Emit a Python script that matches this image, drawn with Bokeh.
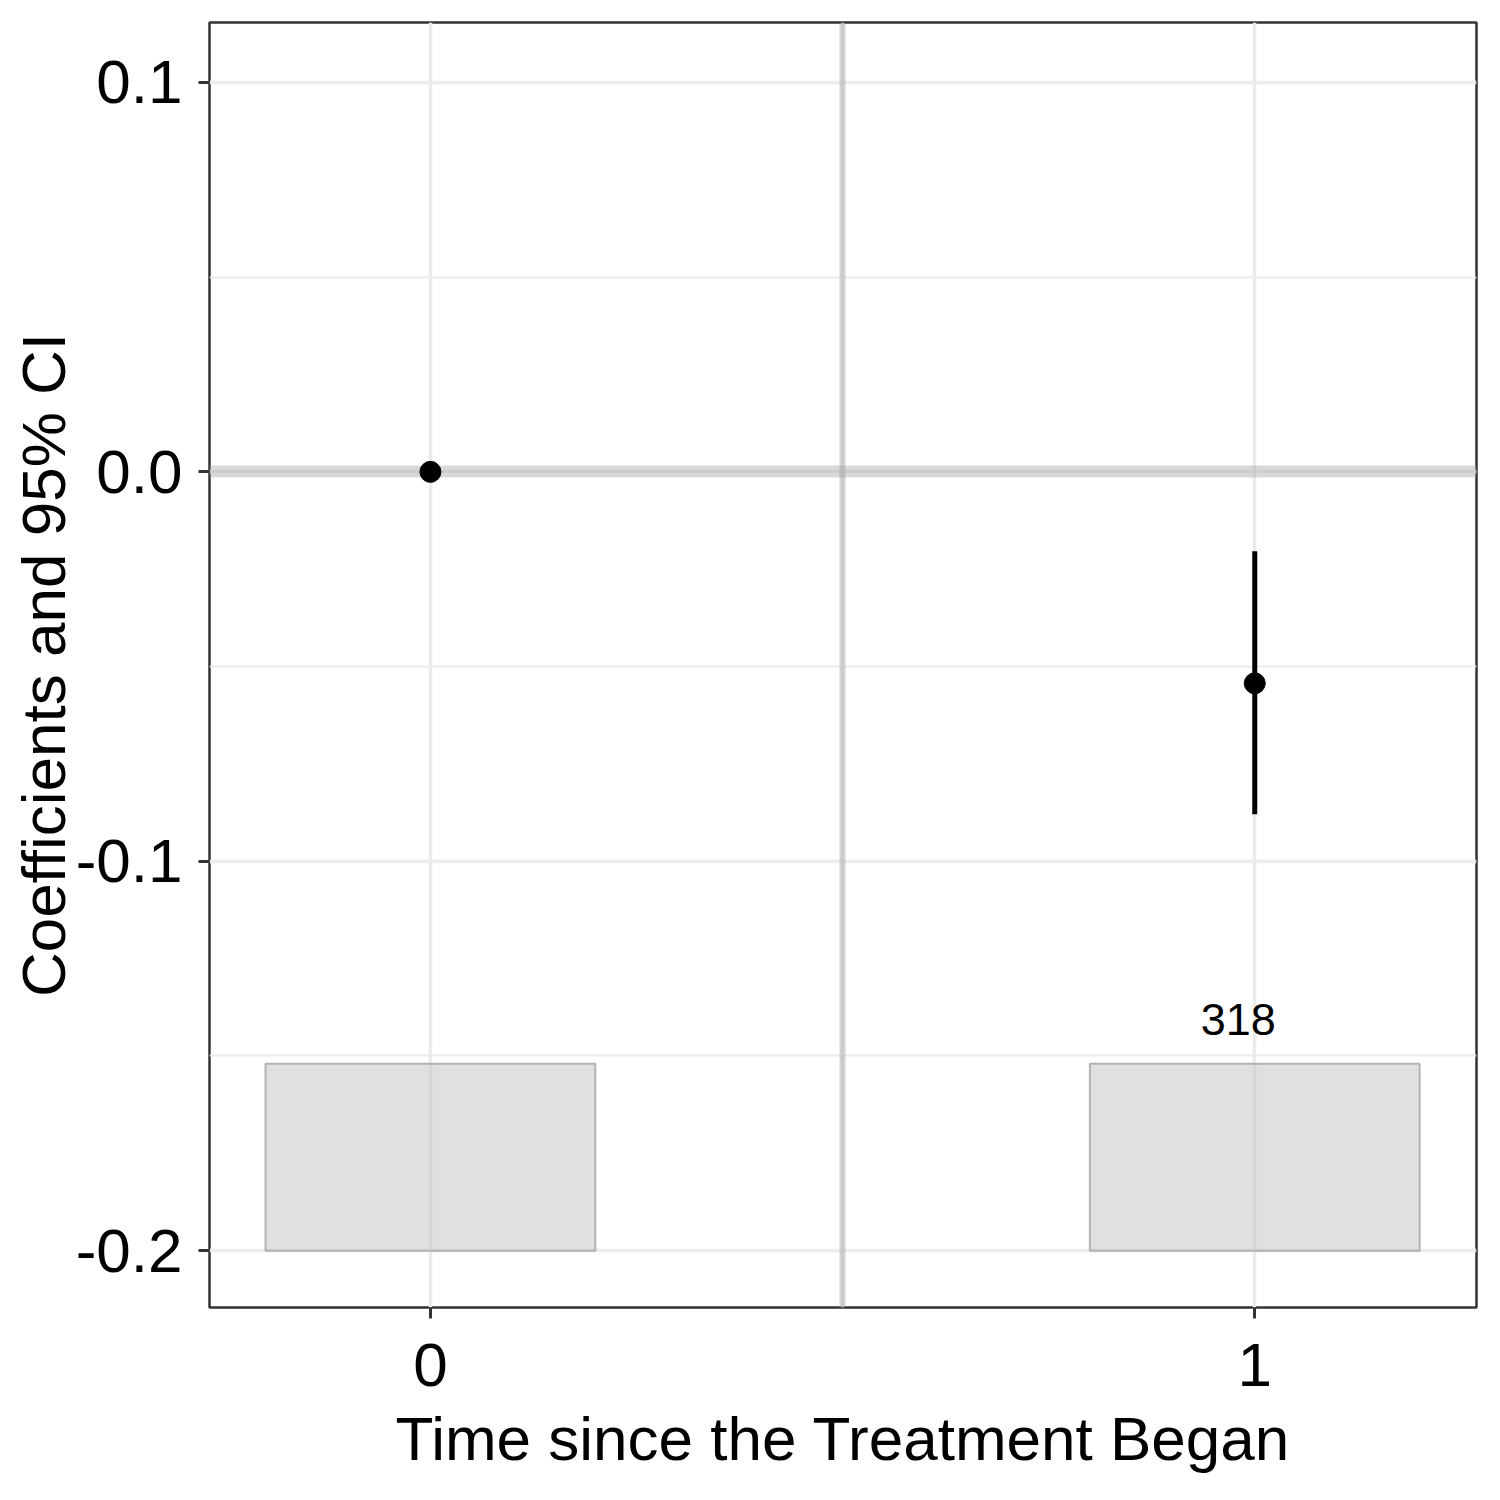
from bokeh.plotting import figure
from bokeh.models import Range1d, FixedTicker
from bokeh.embed import file_html
from bokeh.resources import INLINE
from bokeh.core.properties import value

# ---- data ----
periods = [0, 1]
coef = [0.0, -0.0543]
ci_low = [0.0, -0.0879]
ci_high = [0.0, -0.0204]
bar_left = [-0.2, 0.8]
bar_right = [0.2, 1.2]
bar_bottom = [-0.2, -0.2]
bar_top = [-0.152, -0.152]
count_x = [0.98]
count_y = [-0.1407]
count_text = ["318"]
x_ticks = [0, 1]
x_minor = [0.5]
y_ticks = [-0.2, -0.1, 0.0, 0.1]
y_minor = [-0.15, -0.05, 0.05]
y_tick_labels = ["-0.2", "-0.1", "0.0", "0.1"]
treat_line_x = 0.5
zero_line_y = 0.0

FONT = "Liberation Sans"

p = figure(width=1484, height=1492, output_backend="svg", toolbar_location=None,
           x_range=Range1d(-0.268, 1.269), y_range=Range1d(-0.2146, 0.1154),
           min_border_left=209, min_border_right=8, min_border_top=22, min_border_bottom=185)
p.background_fill_color = "white"
p.border_fill_color = "white"
p.outline_line_color = "#333333"
p.outline_line_width = 2.5

# grids
for g in (p.xgrid, p.ygrid):
    g.grid_line_color = "#ebebeb"
    g.grid_line_width = 3.5
    g.minor_grid_line_color = "#ebebeb"
    g.minor_grid_line_width = 2
p.xaxis.ticker = FixedTicker(ticks=x_ticks, minor_ticks=x_minor)
p.yaxis.ticker = FixedTicker(ticks=y_ticks, minor_ticks=y_minor)
p.yaxis.major_label_overrides = {t: l for t, l in zip(y_ticks, y_tick_labels)}
p.xaxis.major_label_overrides = {t: str(t) for t in x_ticks}

for ax in (p.xaxis, p.yaxis):
    ax.axis_line_color = None
    ax.major_tick_line_color = "#333333"
    ax.major_tick_line_width = 3
    ax.major_tick_out = 11
    ax.major_tick_in = 0
    ax.minor_tick_line_color = None
    ax.major_label_text_font = FONT
    ax.major_label_text_font_size = "62px"
    ax.major_label_text_color = "black"
    ax.axis_label_text_font = FONT
    ax.axis_label_text_font_size = "62px"
    ax.axis_label_text_font_style = "normal"
    ax.axis_label_text_color = "black"

p.xaxis.axis_label = "Time since the Treatment Began"
p.yaxis.axis_label = "Coefficients and 95% CI"
p.xaxis.major_label_standoff = 25
p.xaxis.axis_label_standoff = 15
p.yaxis.major_label_standoff = 16
p.yaxis.axis_label_standoff = -5

# bars (counts)
p.quad(left=bar_left, right=bar_right, bottom=bar_bottom, top=bar_top,
       fill_color="#bebebe", fill_alpha=0.48, line_color="#b3b3b3", line_width=2)

# reference lines
p.hspan(y=[zero_line_y], line_color="#a0a0a0", line_alpha=0.4, line_width=12)
p.vspan(x=[treat_line_x], line_color="#a0a0a0", line_alpha=0.45, line_width=6)

# CIs and points
p.segment(x0=periods, y0=ci_low, x1=periods, y1=ci_high, line_color="black", line_width=5)
p.scatter(x=periods, y=coef, size=21, fill_color="black", line_color="black")

p.text(x=count_x, y=count_y, text=count_text, text_align="center", text_baseline="middle",
       text_font=value(FONT), text_font_size="45px", text_color="black")

open("out.html", "w").write(file_html(p, INLINE))
